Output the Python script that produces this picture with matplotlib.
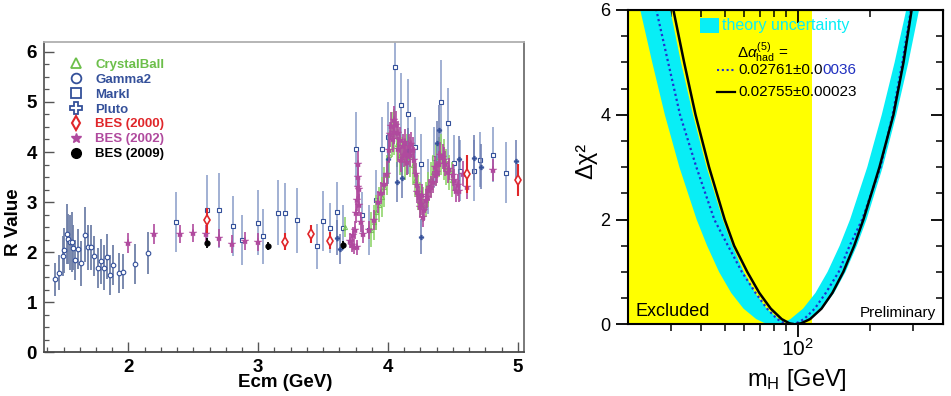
import matplotlib
matplotlib.use("Agg")
import matplotlib.pyplot as plt
from matplotlib.lines import Line2D
from matplotlib.patches import Rectangle
from matplotlib.ticker import MultipleLocator, FixedLocator, FixedFormatter, NullFormatter

plt.rcParams['font.family'] = ['Liberation Sans', 'DejaVu Sans']
plt.rcParams['mathtext.fontset'] = 'custom'
plt.rcParams['mathtext.rm'] = 'Liberation Sans'
plt.rcParams['mathtext.it'] = 'Liberation Sans:italic'
plt.rcParams['mathtext.bf'] = 'Liberation Sans:bold'

# ---------------- left panel: R value data ----------------
gamma2_E = [1.434, 1.465, 1.493, 1.506, 1.524, 1.537, 1.550, 1.563, 1.575, 1.588, 1.609, 1.637, 1.663,
            1.686, 1.712, 1.737, 1.764, 1.789, 1.815, 1.838, 1.859, 1.884, 1.931, 1.961, 2.052, 2.150]
gamma2_R = [1.46, 1.59, 1.93, 2.04, 2.37, 2.27, 2.20, 2.20, 2.09, 1.85, 2.06, 1.78, 2.35,
            2.10, 2.10, 1.93, 1.68, 1.82, 1.69, 1.91, 1.55, 1.74, 1.58, 1.61, 1.76, 1.99]
gamma2_err = [0.33, 0.35, 0.40, 0.45, 0.60, 0.50, 0.55, 0.60, 0.45, 0.40, 0.40, 0.45, 0.55,
              0.45, 0.45, 0.40, 0.40, 0.45, 0.45, 0.45, 0.40, 0.40, 0.40, 0.35, 0.40, 0.42]

markI_E = [2.368, 2.605, 2.700, 2.803, 2.876, 3.000, 3.040, 3.154, 3.205, 3.300, 3.455, 3.500, 3.550,
           3.604, 3.650, 3.750, 3.800, 3.850, 3.905, 3.957, 4.003, 4.055, 4.103, 4.157, 4.208, 4.258,
           4.310, 4.357, 4.408, 4.460, 4.506, 4.556, 4.660, 4.710, 4.810, 4.910]
markI_R = [2.60, 2.84, 2.84, 2.53, 2.25, 2.59, 2.32, 2.79, 2.79, 2.64, 2.12, 2.62, 2.49,
           2.81, 2.49, 4.05, 2.75, 2.44, 3.04, 4.05, 4.29, 5.69, 4.93, 4.75, 4.09, 3.76,
           3.31, 3.89, 4.99, 4.57, 3.79, 3.63, 3.63, 3.85, 3.95, 3.59]
markI_err = [0.60, 0.70, 0.75, 0.60, 0.50, 0.65, 0.55, 0.65, 0.60, 0.65, 0.45, 0.60, 0.50,
             0.60, 0.45, 0.75, 0.45, 0.50, 0.60, 0.65, 0.70, 1.10, 0.65, 0.70, 0.60, 0.60,
             0.55, 0.60, 0.85, 0.70, 0.55, 0.60, 0.60, 0.55, 0.55, 0.60]

pluto_E = [3.604, 3.633, 4.003, 4.070, 4.110, 4.157, 4.253, 4.380, 4.390, 4.550, 4.664, 4.720, 4.986]
pluto_R = [2.29, 2.07, 3.86, 3.41, 3.49, 4.02, 2.31, 4.17, 4.44, 3.87, 3.89, 3.71, 3.83]
pluto_err = [0.35, 0.30, 0.50, 0.40, 0.40, 0.45, 0.35, 0.45, 0.50, 0.45, 0.45, 0.45, 0.40]

cb_E = [3.670, 3.870, 3.890, 3.910, 3.930, 3.950, 3.970, 3.990, 4.010, 4.030, 4.050, 4.070, 4.090,
        4.110, 4.130, 4.150, 4.170, 4.190, 4.210, 4.230, 4.250, 4.270, 4.290, 4.310, 4.330, 4.350,
        4.370, 4.390, 4.410, 4.430, 4.450, 4.470, 4.490]
cb_R = [2.50, 2.45, 2.60, 2.80, 2.95, 3.10, 3.30, 3.55, 3.95, 4.35, 4.40, 4.15, 3.95,
        3.90, 3.85, 3.95, 3.90, 3.75, 3.45, 3.20, 3.05, 2.95, 3.05, 3.25, 3.45, 3.60,
        3.75, 3.90, 3.95, 3.85, 3.70, 3.60, 3.45]
cb_err = [0.20, 0.35, 0.35, 0.35, 0.35, 0.40, 0.40, 0.40, 0.45, 0.45, 0.45, 0.45, 0.40,
          0.40, 0.40, 0.40, 0.40, 0.40, 0.35, 0.35, 0.35, 0.35, 0.35, 0.35, 0.35, 0.35,
          0.40, 0.40, 0.40, 0.40, 0.35, 0.35, 0.35]

bes02_E = [2.000, 2.200, 2.400, 2.500, 2.600, 2.700, 2.800, 2.900, 3.000, 3.705, 3.720, 3.730, 3.735,
           3.747, 3.750, 3.760, 3.765, 3.768, 3.770, 3.772, 3.773, 3.777, 3.790, 3.810, 3.855, 3.894,
           3.920, 3.945, 3.970, 3.990, 4.010, 4.015, 4.023, 4.035, 4.044, 4.050, 4.060, 4.075, 4.080,
           4.093, 4.100, 4.113, 4.120, 4.130, 4.140, 4.150, 4.164, 4.170, 4.180, 4.190, 4.200, 4.214,
           4.220, 4.227, 4.240, 4.245, 4.258, 4.260, 4.270, 4.280, 4.290, 4.300, 4.317, 4.330, 4.343,
           4.360, 4.368, 4.380, 4.393, 4.400, 4.420, 4.430, 4.440, 4.460, 4.473, 4.497, 4.510, 4.524,
           4.540, 4.550, 4.577, 4.605, 4.806]
bes02_R = [2.19, 2.37, 2.37, 2.39, 2.37, 2.29, 2.17, 2.22, 2.21, 2.23, 2.15, 2.35, 2.11,
           2.45, 2.78, 2.10, 3.04, 3.30, 3.77, 3.50, 2.95, 3.27, 2.61, 2.37, 2.45, 2.64,
           3.00, 3.19, 3.37, 3.57, 4.04, 4.35, 4.51, 4.25, 4.64, 4.40, 4.54, 4.37, 4.05,
           4.24, 3.85, 4.11, 3.95, 4.20, 3.97, 3.80, 4.11, 3.95, 4.15, 4.04, 3.84, 3.57,
           3.35, 3.21, 3.11, 2.90, 2.97, 3.15, 2.71, 2.85, 3.04, 3.10, 3.24, 3.30, 3.41,
           3.70, 3.54, 3.60, 3.77, 3.95, 3.91, 3.85, 3.77, 3.60, 3.67, 3.54, 3.45, 3.23,
           3.35, 3.23, 3.57, 3.31, 3.64]
bes02_err = [0.20, 0.20, 0.18, 0.18, 0.18, 0.18, 0.18, 0.18, 0.18, 0.15, 0.15, 0.15, 0.15,
             0.18, 0.20, 0.15, 0.22, 0.22, 0.25, 0.25, 0.22, 0.22, 0.20, 0.18, 0.18, 0.20,
             0.22, 0.22, 0.22, 0.25, 0.25, 0.25, 0.28, 0.25, 0.28, 0.25, 0.28, 0.25, 0.25,
             0.25, 0.25, 0.25, 0.25, 0.25, 0.25, 0.25, 0.25, 0.25, 0.25, 0.25, 0.25, 0.22,
             0.22, 0.22, 0.22, 0.22, 0.22, 0.22, 0.20, 0.22, 0.22, 0.22, 0.22, 0.22, 0.22,
             0.22, 0.22, 0.22, 0.25, 0.25, 0.25, 0.25, 0.25, 0.22, 0.22, 0.22, 0.22, 0.22,
             0.22, 0.22, 0.25, 0.25, 0.22]

bes00_E = [2.605, 3.205, 3.403, 3.557, 4.605, 5.000]
bes00_R = [2.64, 2.21, 2.37, 2.23, 3.56, 3.44]
bes00_err = [0.25, 0.17, 0.18, 0.17, 0.38, 0.32]

bes09_E = [2.605, 3.073, 3.655]
bes09_R = [2.19, 2.13, 2.14]
bes09_err = [0.10, 0.08, 0.08]

legend_labels = ["CrystalBall", "Gamma2", "MarkI", "Pluto", "BES (2000)", "BES (2002)", "BES (2009)"]

# ---------------- right panel: blue band data ----------------
band_a_mh = [20.3, 22.4, 25.1, 28.3, 32.5, 38.3, 42.3, 47.4, 53.2, 59.8, 67.5, 72.6, 79.4,
             86.9, 93.5, 105.4, 118.6, 133.0, 149.3, 164.8, 194.1, 222.8, 251.8, 281.2, 311.2]
band_b_mh = [27.0, 29.8, 33.0, 37.0, 42.1, 49.1, 53.8, 60.0, 66.8, 74.6, 83.6, 89.5, 97.3,
             105.7, 113.2, 126.8, 141.6, 157.8, 175.8, 192.8, 224.9, 255.9, 287.1, 317.7, 349.9]
band_chi2 = [7, 6, 5, 4, 3, 2, 1.5, 1, 0.6, 0.3, 0.1, 0.03, 0,
             0.03, 0.1, 0.3, 0.6, 1, 1.5, 2, 3, 4, 5, 6, 7]

dot_mh = [23.6, 26.1, 29.2, 32.7, 38.2, 45.3, 51.6, 58.9, 67.1, 74.8, 82.4, 88.3, 93.3,
          98.8, 106.4, 117.8, 130.9, 147.9, 164.1, 184.9, 220.0, 247.0, 271.0, 294.0, 318.0]
dot_chi2 = [7, 6, 5, 4, 3, 2, 1.5, 1, 0.6, 0.3, 0.1, 0.02, 0,
            0.02, 0.1, 0.3, 0.6, 1, 1.5, 2, 3, 4, 5, 6, 7]

solid_mh = [28.0, 30.7, 34.0, 37.9, 43.1, 50.0, 54.7, 62.0, 69.5, 77.5, 86.0, 92.5, 97.0,
            103.5, 112.7, 125.6, 139.3, 154.5, 171.4, 187.1, 218.0, 249.0, 274.0, 296.0, 318.0]
solid_chi2 = [7, 6, 5, 4, 3, 2, 1.5, 1, 0.6, 0.3, 0.1, 0.02, 0,
              0.02, 0.1, 0.3, 0.6, 1, 1.5, 2, 3, 4, 5, 6, 7]

lep_limit = 114.4

# colours
C_CB = "#6cbf4a"
C_BLUE = "#34509a"
C_RED = "#e0262a"
C_MAG = "#b04a9e"
CYAN = "#08eef6"

fig = plt.figure(figsize=(9.51, 3.96), dpi=100)

# ================= left =================
ax = fig.add_axes([0.0463, 0.111, 0.505, 0.783])
ax.errorbar(gamma2_E, gamma2_R, yerr=gamma2_err, fmt='o', ms=3.3, mfc='white', mec=C_BLUE, mew=0.8,
            ecolor='#7080a8', elinewidth=1.3, capsize=0, zorder=2)
ax.errorbar(markI_E, markI_R, yerr=markI_err, fmt='s', ms=3.3, mfc='white', mec=C_BLUE, mew=0.8,
            ecolor='#9aaad0', elinewidth=1.3, capsize=0, zorder=2)
ax.errorbar(cb_E, cb_R, yerr=cb_err, fmt='^', ms=3, mfc='none', mec=C_CB, mew=0.7,
            ecolor='#8fd46a', elinewidth=1.3, capsize=0, alpha=0.9, zorder=3)
ax.errorbar(pluto_E, pluto_R, yerr=pluto_err, fmt='P', ms=3.5, mfc=C_BLUE, mec=C_BLUE, mew=0.3,
            ecolor='#6a7ab0', elinewidth=1.1, capsize=0, zorder=3)
ax.errorbar(bes02_E, bes02_R, yerr=bes02_err, fmt='*', ms=6, mfc=C_MAG, mec=C_MAG, mew=0.3,
            ecolor=C_MAG, elinewidth=1.2, capsize=0, zorder=4)
ax.errorbar(bes00_E, bes00_R, yerr=bes00_err, fmt='d', ms=5, mfc='white', mec=C_RED, mew=1.2,
            ecolor=C_RED, elinewidth=1.5, capsize=0, zorder=5)
ax.errorbar(bes09_E, bes09_R, yerr=bes09_err, fmt='o', ms=3.5, mfc='black', mec='black',
            ecolor='black', elinewidth=1.3, capsize=0, zorder=5)

ax.set_xlim(1.35, 5.05)
ax.set_ylim(0, 6.2)
ax.xaxis.set_major_locator(FixedLocator([2, 3, 4, 5]))
ax.xaxis.set_minor_locator(MultipleLocator(0.125))
ax.yaxis.set_major_locator(MultipleLocator(1))
ax.yaxis.set_minor_locator(MultipleLocator(0.25))
ax.tick_params(which='major', direction='in', length=7, width=1.0, color='#555555',
               labelsize=13.5, pad=5)
ax.tick_params(which='minor', direction='in', length=3.5, width=0.9, color='#555555')
for lab in ax.get_xticklabels() + ax.get_yticklabels():
    lab.set_fontweight('bold')
for side, col in (('left', '#5a5a5a'), ('bottom', '#4a4a4a'), ('top', '#b0b0b0'), ('right', '#707070')):
    ax.spines[side].set_color(col)
    ax.spines[side].set_linewidth(1.3)
ax.set_ylabel("R Value", fontsize=13.5, fontweight='bold')
ax.yaxis.set_label_coords(-0.045, 0.42)
ax.set_xlabel("Ecm (GeV)", fontsize=13.5, fontweight='bold')
ax.xaxis.set_label_coords(0.502, -0.072)

handles = [
    Line2D([], [], ls='', marker='^', ms=7, mfc='white', mec=C_CB, mew=1.3),
    Line2D([], [], ls='', marker='o', ms=7, mfc='white', mec=C_BLUE, mew=1.3),
    Line2D([], [], ls='', marker='s', ms=7, mfc='white', mec=C_BLUE, mew=1.3),
    Line2D([], [], ls='', marker='P', ms=8, mfc='white', mec=C_BLUE, mew=1.3),
    Line2D([], [], ls='', marker='d', ms=7, mfc='white', mec=C_RED, mew=1.5),
    Line2D([], [], ls='', marker='*', ms=7, mfc=C_MAG, mec=C_MAG),
    Line2D([], [], ls='', marker='o', ms=7, mfc='black', mec='black'),
]
ax.legend(handles, legend_labels, loc='upper left', bbox_to_anchor=(0.052, 0.946), frameon=False,
          prop={'weight': 'bold', 'size': 9.5}, labelspacing=0.2, handlelength=1.0,
          handletextpad=1.0, borderaxespad=0, borderpad=0,
          labelcolor=[C_CB, C_BLUE, C_BLUE, C_BLUE, C_RED, C_MAG, 'black'])

# ================= right =================
bx = fig.add_axes([0.6607, 0.181, 0.3312, 0.794])
bx.set_xscale('log')
bx.set_xlim(20, 400)
bx.set_ylim(0, 6)
bx.axvspan(20, lep_limit, color='#ffff00', lw=0, zorder=0)
bx.fill(band_a_mh + band_b_mh[::-1], band_chi2 + band_chi2[::-1], color=CYAN, lw=0, zorder=1)
bx.plot(dot_mh, dot_chi2, ls=(0, (1, 1.3)), color='#2030d0', lw=1.6, zorder=2)
bx.plot(solid_mh, solid_chi2, color='black', lw=1.8, zorder=3)

bx.xaxis.set_major_locator(FixedLocator([100]))
bx.xaxis.set_major_formatter(FixedFormatter([r'$\mathregular{10^{2}}$']))
bx.xaxis.set_minor_locator(FixedLocator([30, 40, 50, 60, 70, 80, 90, 200, 300]))
bx.xaxis.set_minor_formatter(NullFormatter())
bx.yaxis.set_major_locator(MultipleLocator(2))
bx.yaxis.set_minor_locator(MultipleLocator(0.5))
bx.tick_params(which='major', direction='out', length=9, width=1.3, pad=4)
bx.tick_params(axis='y', which='major', labelsize=13)
bx.tick_params(axis='x', which='major', labelsize=15, pad=1)
bx.tick_params(which='minor', direction='out', length=5, width=1.1)
for s in bx.spines.values():
    s.set_linewidth(1.5)

top = bx.secondary_xaxis('top')
top.xaxis.set_major_locator(FixedLocator([100]))
top.xaxis.set_minor_locator(FixedLocator([30, 40, 50, 60, 70, 80, 90, 200, 300]))
top.xaxis.set_major_formatter(NullFormatter())
top.xaxis.set_minor_formatter(NullFormatter())
top.tick_params(which='major', direction='in', length=9, width=1.3)
top.tick_params(which='minor', direction='in', length=5, width=1.1)
rgt = bx.secondary_yaxis('right')
rgt.yaxis.set_major_locator(MultipleLocator(2))
rgt.yaxis.set_minor_locator(MultipleLocator(0.5))
rgt.yaxis.set_major_formatter(NullFormatter())
rgt.tick_params(which='major', direction='in', length=9, width=1.3)
rgt.tick_params(which='minor', direction='in', length=5, width=1.1)

bx.set_ylabel("Δχ²", fontsize=17)
bx.yaxis.set_label_coords(-0.10, 0.52)
bx.set_xlabel(r"m$_\mathregular{H}$ [GeV]", fontsize=17)
bx.xaxis.set_label_coords(0.536, -0.135)

bx.text(0.022, 0.015, "Excluded", transform=bx.transAxes, fontsize=13, va='bottom', ha='left')
bx.text(0.977, 0.015, "Preliminary", transform=bx.transAxes, fontsize=11, va='bottom', ha='right')

bx.add_patch(Rectangle((0.228, 0.927), 0.06, 0.048, transform=bx.transAxes, color=CYAN, lw=0, zorder=4))
bx.text(0.298, 0.951, "theory uncertainty", transform=bx.transAxes, fontsize=11.5, color=CYAN,
        va='center', ha='left', zorder=5)
bx.text(0.345, 0.863, r"$\Delta\alpha^{(5)}_{\mathregular{had}}$ =", transform=bx.transAxes,
        fontsize=11, va='center', ha='left', zorder=5)
bx.plot([0.281, 0.339], [0.809, 0.809], transform=bx.transAxes, ls=(0, (1, 1.3)), color='#2030d0',
        lw=1.5, zorder=5)
t1 = bx.text(0.348, 0.809, "0.02761±0.0", transform=bx.transAxes, fontsize=11, va='center',
             ha='left', zorder=5)
bx.annotate("0036", xy=(1, 0.5), xycoords=t1, va='center', ha='left', fontsize=11,
            color='#2030c0', zorder=5)
bx.plot([0.281, 0.339], [0.739, 0.739], transform=bx.transAxes, color='black', lw=1.6, zorder=5)
bx.text(0.348, 0.739, "0.02755±0.00023", transform=bx.transAxes, fontsize=11, va='center',
        ha='left', zorder=5)

fig.savefig("out.png", dpi=100)
